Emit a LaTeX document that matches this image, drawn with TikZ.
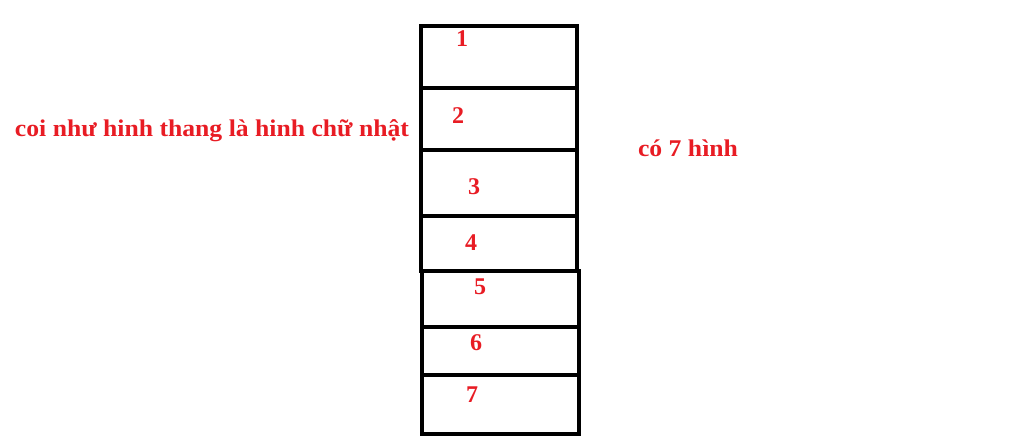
\documentclass[tikz,border=0pt]{standalone}
\usepackage{fontspec}
\setmainfont{Liberation Serif}
\definecolor{lblred}{RGB}{232,28,36}
\begin{document}
\begin{tikzpicture}[x=1pt,y=-1pt,
  cell/.style={draw=black,line width=3.3pt},
  num/.style={text=lblred,font=\bfseries\fontsize{24}{26}\selectfont,inner sep=0pt},
  note/.style={text=lblred,font=\bfseries\fontsize{24}{26}\selectfont,inner sep=0pt,xscale=1.07}]
\useasboundingbox (0,0) rectangle (1024,441);
% upper column
\draw[cell] (421,26) rectangle (577,88);
\draw[cell] (421,88) rectangle (577,150);
\draw[cell] (421,150) rectangle (577,216);
\draw[cell] (421,216) rectangle (577,271);
% lower column
\draw[cell] (422,271) rectangle (579,327);
\draw[cell] (422,327) rectangle (579,375);
\draw[cell] (422,375) rectangle (579,434);
% numbers
\node[num] (n1) at (462,39) {1};
\node[num] (n2) at (458,116) {2};
\node[num] (n3) at (474,187) {3};
\node[num] (n4) at (471,243) {4};
\node[num] (n5) at (480,287) {5};
\node[num] (n6) at (476,343) {6};
\node[num] (n7) at (472,395) {7};
% notes
\node[note] (left) at (212,131) {coi như hinh thang là hinh chữ nhật};
\node[note] (right) at (688,148) {có 7 hình};
\end{tikzpicture}
\end{document}
